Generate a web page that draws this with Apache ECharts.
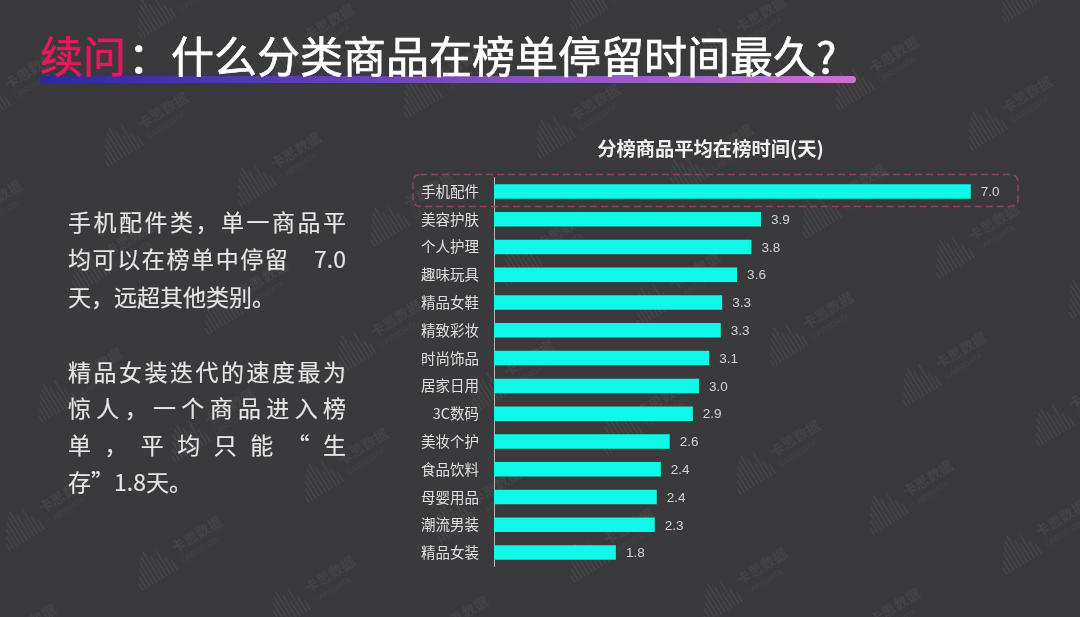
<!DOCTYPE html>
<html>
<head>
	<meta charset="utf-8">
	<title>续问</title>
	<style>
		* { margin: 0; padding: 0; }
		body { background: #3a393b; overflow: hidden; }
		#chart { width: 1080px; height: 617px; }
	</style>
	<script src="https://cdn.jsdelivr.net/npm/echarts@6/dist/echarts.min.js"></script>
</head>
<body>
<div id="chart"></div>
<script>
	var categories = ['手机配件', '美容护肤', '个人护理', '趣味玩具', '精品女鞋', '精致彩妆', '时尚饰品', '居家日用', '3C数码', '美妆个护', '食品饮料', '母婴用品', '潮流男装', '精品女装'];
	// bar lengths, the printed labels are rounded differently
	var barValues = [7.0, 3.92, 3.78, 3.57, 3.35, 3.33, 3.16, 3.01, 2.92, 2.58, 2.45, 2.39, 2.36, 1.79];
	var barLabels = ['7.0', '3.9', '3.8', '3.6', '3.3', '3.3', '3.1', '3.0', '2.9', '2.6', '2.4', '2.4', '2.3', '1.8'];

	var chartTitle = '分榜商品平均在榜时间(天)';
	var headRed = '续问';
	var headWhite = '：什么分类商品在榜单停留时间最久?';

	// left text, justified lines are split in tokens
	var noteLines = [
		{ y: 222, just: true, t: '手机配件类，单一商品平'.split('') },
		{ y: 259, just: true, t: '均可以在榜单中停留　'.split('').concat(['7.0']) },
		{ y: 297, just: false, t: ['天，远超其他类别。'] },
		{ y: 372, just: true, t: '精品女装迭代的速度最为'.split('') },
		{ y: 408, just: true, t: '惊人，一个商品进入榜'.split('') },
		{ y: 445, just: true, t: '单，平均只能“生'.split('') },
		{ y: 482, just: false, t: ['存”1.8天。'] }
	];

	var CJK = '"Noto Sans CJK SC", sans-serif';
	var graphics = [];

	function addWatermark(cx, cy) {
		var kids = [];
		var hs = [8, 14, 20, 26, 30, 34, 26, 20, 30, 18, 12];
		for (var i = 0; i < hs.length; i++) {
			kids.push({ type: 'rect', shape: { x: -48 + i * 4, y: 12 - hs[i], width: 2, height: hs[i] }, style: { fill: 'rgba(255,255,255,0.05)' } });
		}
		kids.push({ type: 'text', style: { x: 0, y: -15, text: '卡思数据', fill: 'rgba(255,255,255,0.05)', font: 'bold 14px ' + CJK } });
		kids.push({ type: 'text', style: { x: 1, y: 3, text: 'CARSDATA', fill: 'rgba(255,255,255,0.05)', font: '8px "Liberation Sans"' } });
		graphics.push({ type: 'group', x: cx, y: cy, rotation: 0.55, silent: true, children: kids });
	}

	for (var m = -4; m <= 4; m++) {
		for (var n = -8; n <= 4; n++) {
			var wx = 775 + n * 133 - m * 33;
			var wy = 460 + n * 40 + m * 128;
			if (wx > -40 && wx < 1120 && wy > -30 && wy < 650) {
				addWatermark(wx, wy);
			}
		}
	}

	// headline and underline
	graphics.push({
		type: 'rect', shape: { x: 40, y: 76, width: 816, height: 7, r: 3.5 },
		style: { fill: new echarts.graphic.LinearGradient(0, 0, 1, 0, [
			{ offset: 0, color: '#2a2a9e' },
			{ offset: 0.5, color: '#7a4ab8' },
			{ offset: 1, color: '#cf6fd6' }
		]) }
	});
	graphics.push({ type: 'text', style: { x: 40, y: 35, text: headRed, fill: '#e8175d', stroke: '#e8175d', lineWidth: 0.7, font: '43px ' + CJK } });
	graphics.push({ type: 'text', style: { x: 128, y: 35, text: headWhite, fill: '#ffffff', stroke: '#ffffff', lineWidth: 0.7, font: '43px ' + CJK } });

	// left notes
	var noteFont = '23px ' + CJK;
	var noteLeft = 68, noteRight = 346;
	var ctx = document.createElement('canvas').getContext('2d');
	ctx.font = noteFont;
	noteLines.forEach(function (line) {
		var total = 0;
		line.t.forEach(function (s) { total += ctx.measureText(s).width; });
		var gap = line.just ? (noteRight - noteLeft - total) / (line.t.length - 1) : 0;
		var x = noteLeft;
		line.t.forEach(function (s) {
			graphics.push({ type: 'text', style: { x: x, y: line.y, text: s, fill: '#e6e6e6', stroke: '#e6e6e6', lineWidth: 0.15, font: noteFont, verticalAlign: 'middle' } });
			x += ctx.measureText(s).width + gap;
		});
	});

	// dashed frame around the first row
	graphics.push({
		type: 'rect', z: 5, shape: { x: 413, y: 174.5, width: 605, height: 32, r: 7 },
		style: { fill: 'none', stroke: '#93405f', lineWidth: 1.5, lineDash: [7, 4] }
	});

	var chart = echarts.init(document.getElementById('chart'));
	chart.setOption({
		backgroundColor: '#3a393b',
		animation: false,
		title: {
			text: chartTitle, left: 705.5, top: 134, textAlign: 'center',
			textStyle: { color: '#f0f0f0', fontSize: 19.3, fontWeight: 'bold', fontFamily: CJK }
		},
		grid: { left: 494, right: 109.3, top: 177.5, bottom: 50.5 },
		xAxis: { type: 'value', min: 0, max: 7, show: false },
		yAxis: {
			type: 'category', inverse: true, data: categories,
			axisLine: { lineStyle: { color: '#b5b5b5', width: 1 } },
			axisTick: { show: false },
			axisLabel: { color: '#e0e0e0', fontSize: 14.5, margin: 15, fontFamily: CJK }
		},
		series: [{
			type: 'bar', data: barValues, barWidth: 14.5,
			itemStyle: { color: '#0ff8e8' },
			label: {
				show: true, position: 'right', distance: 10, offset: [0, 1], color: '#d2d2d2', fontSize: 13.5,
				fontFamily: '"Liberation Sans"',
				formatter: function (p) { return barLabels[p.dataIndex]; }
			}
		}],
		graphic: graphics
	});
</script>
</body>
</html>
